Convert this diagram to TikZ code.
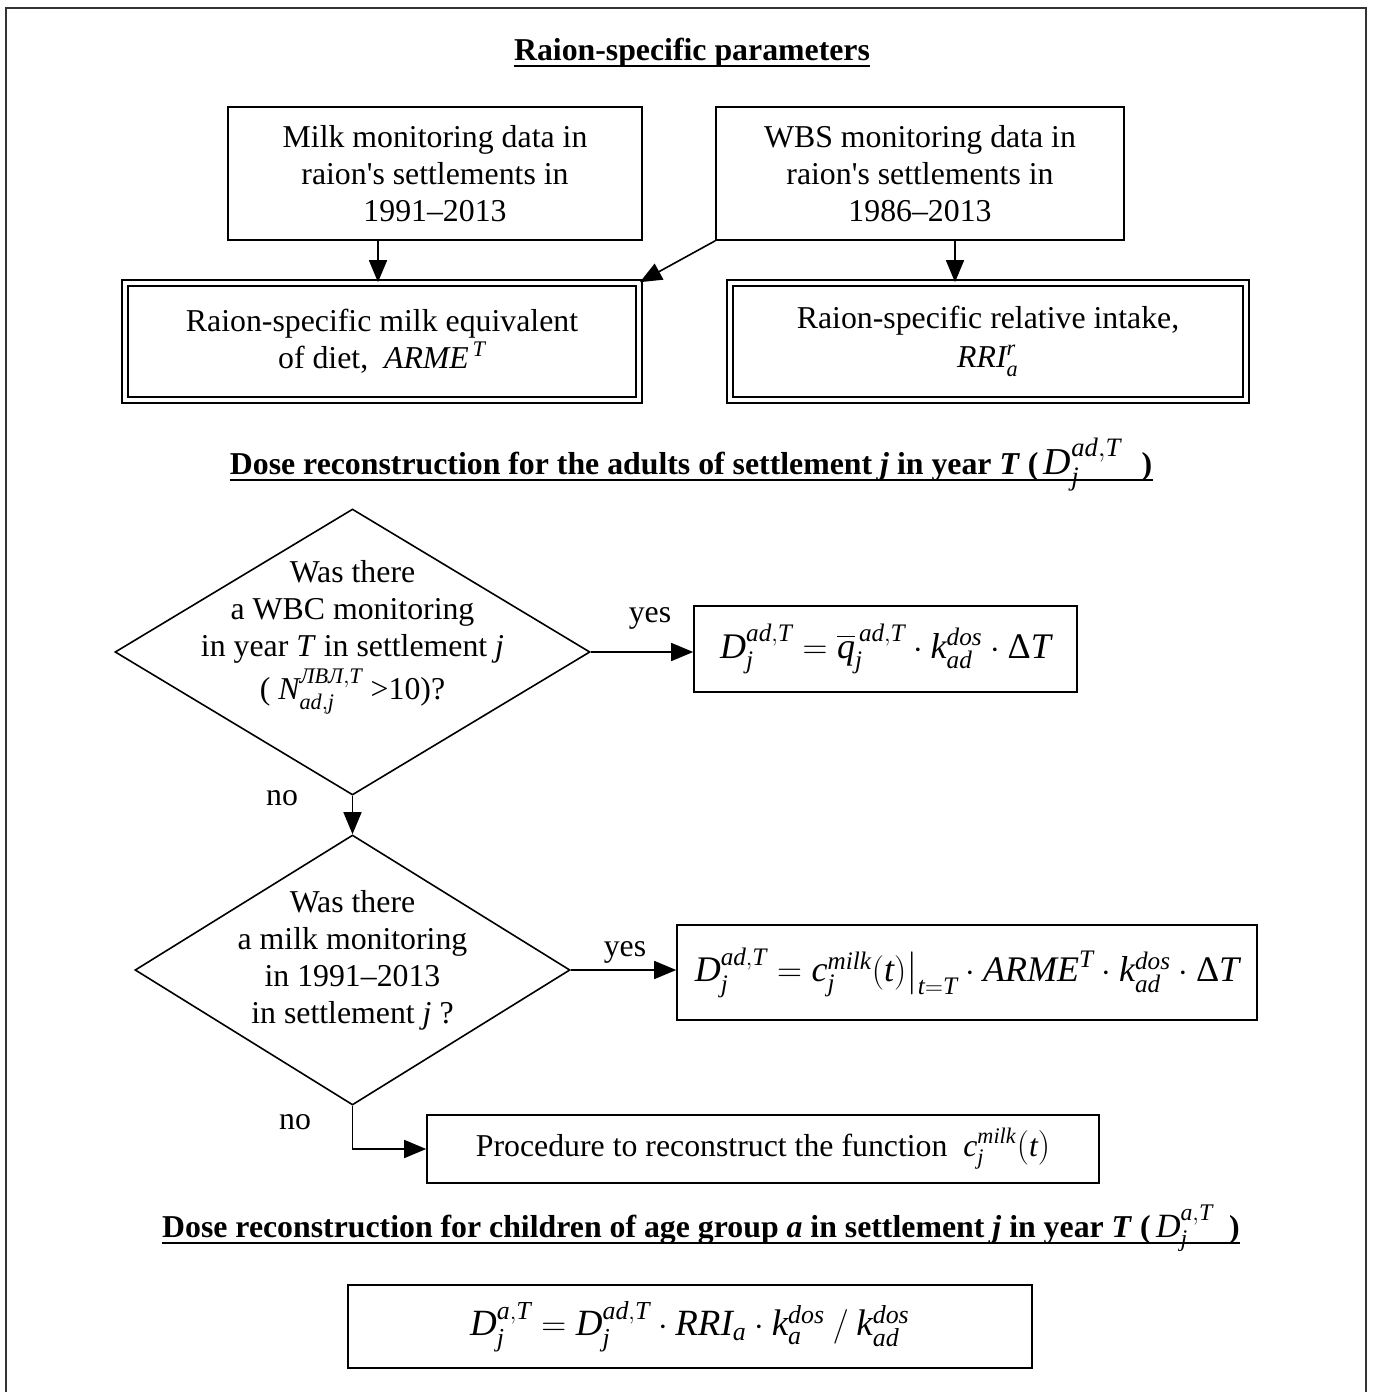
\documentclass[tikz,border=0pt]{standalone}
\usepackage{amsmath}
\usepackage{fontspec}
\setmainfont{Liberation Serif}
\usetikzlibrary{shapes.geometric,arrows.meta}
\newcommand\mi[1]{\mathit{#1}}
\newcommand\dlt{\text{\upshape Δ}}
\begin{document}
\begin{tikzpicture}[x=0.5pt,y=-0.5pt,
  txt/.style={font=\fontsize{15.9}{18.5}\selectfont, align=center},
  box/.style={draw, line width=0.8pt, txt, inner sep=0pt},
  dbox/.style={draw, double, double distance=2.2pt, line width=0.8pt, txt, inner sep=0pt},
  dia/.style={draw, diamond, line width=0.8pt, inner sep=0pt},
  arr/.style={line width=0.8pt, -{Triangle[length=11pt,width=9pt]}},
  hd/.style={font=\fontsize{15.9}{18.5}\selectfont\bfseries, inner sep=0pt, anchor=base},
  lbl/.style={txt, inner sep=0pt},
  uline/.style={line width=1.1pt}
]
\useasboundingbox (0,0) rectangle (1372,1392);
\draw[line width=0.8pt, black!80] (6,8) rectangle (1366,1400);

% headings
\node[hd] (h1) at (692,60) {Raion-specific parameters};
\draw[uline] ([yshift=-3pt]h1.base west) -- ([yshift=-3pt]h1.base east);

\node[hd] (h2) at (691,474) {Dose reconstruction for the adults of settlement \textit{j} in year \textit{T} (\,{\mdseries\fontsize{19}{20}\selectfont$\mi{D}_{\mi{j}}^{\mi{ad},\mi{T}}$}\hspace{10pt})};
\draw[uline] ([yshift=-3pt]h2.base west) -- ([yshift=-3pt]h2.base east);

\node[hd] (h3) at (701,1237) {Dose reconstruction for children of age group \textit{a} in settlement \textit{j} in year \textit{T} (\,{\mdseries\fontsize{17}{18}\selectfont$\mi{D}_{\mi{j}}^{\mi{a},\mi{T}}$}\hspace{8pt})};
\draw[uline] ([yshift=-3pt]h3.base west) -- ([yshift=-3pt]h3.base east);

% raion boxes
\node[box, minimum width=207pt, minimum height=66.5pt] (b1) at (435,173.5)
  {Milk monitoring data in\\ raion\textquotesingle s settlements in\\ 1991--2013};
\node[box, minimum width=204pt, minimum height=66.5pt] (b2) at (920,173.5)
  {WBS monitoring data in\\ raion\textquotesingle s settlements in\\ 1986--2013};
\node[dbox, minimum width=257pt, minimum height=58.5pt] (dl) at (382,341.5)
  {Raion-specific milk equivalent\\ of diet,\ \ $\mi{ARME}^{\,\mi{T}}$};
\node[dbox, minimum width=258pt, minimum height=58.5pt] (dr) at (988,341.5)
  {Raion-specific relative intake,\\[1pt] $\mi{RRI}_{\mi{a}}^{\mi{r}}$};

\draw[arr] ([xshift=-28.5pt]b1.south) -- ([xshift=-28.5pt]b1.south |- dl.north);
\draw[arr] ([xshift=17.5pt]b2.south) -- ([xshift=17.5pt]b2.south |- dr.north);
\draw[arr] (b2.south west) -- (dl.north east);

% decision 1
\node[dia, minimum width=237.5pt, minimum height=143pt] (d1) at (352.5,652) {};
\node[lbl] (d1t) at (352.5,637)
  {Was there\\ a WBC monitoring\\ in year \textit{T} in settlement \textit{j}\\[2pt] ( $\mi{N}_{\mi{ad},\mi{j}}^{\text{\itshape ЛВЛ},\mi{T}}$ >10)?};
\node[box, minimum width=191.5pt, minimum height=43pt] (f1) at (885.5,649)
  {\fontsize{18}{22}\selectfont $\mi{D}_{\mi{j}}^{\mi{ad},\mi{T}} = \overline{\mi{q}}_{\mi{j}}^{\,\mi{ad},\mi{T}} \cdot \mi{k}_{\mi{ad}}^{\mi{dos}} \cdot \dlt\mi{T}$};
\draw[arr] (d1.east) -- (d1.east -| f1.west);
\node[lbl] (y1) at (650,618) {yes};
\node[lbl] (n1) at (282,798) {no};

% decision 2
\node[dia, minimum width=217.5pt, minimum height=135pt] (d2) at (352.5,970) {};
\node[lbl] (d2t) at (352.5,960)
  {Was there\\ a milk monitoring\\ in 1991--2013\\ in settlement \textit{j} ?};
\draw[arr] (d1.south) -- (d2.north);
\node[box, minimum width=290pt, minimum height=47.5pt] (f2) at (967,972.5)
  {\fontsize{18}{22}\selectfont $\mi{D}_{\mi{j}}^{\mi{ad},\mi{T}} = \mi{c}_{\mi{j}}^{\mi{milk}}\mathrm{(}\mi{t}\mathrm{)}\big|_{\mi{t}=\mi{T}} \cdot \mi{ARME}^{\mi{T}} \cdot \mi{k}_{\mi{ad}}^{\mi{dos}} \cdot \dlt\mi{T}$};
\draw[arr] (d2.east) -- (d2.east -| f2.west);
\node[lbl] (y2) at (625,952) {yes};
\node[lbl] (n2) at (295,1122) {no};

% procedure
\node[box, minimum width=336pt, minimum height=34pt] (p) at (763,1149)
  {Procedure to reconstruct the function\ \ $\mi{c}_{\mi{j}}^{\mi{milk}}\mathrm{(}\mi{t}\mathrm{)}$};
\draw[arr] (d2.south) |- (p.west);

% children
\node[box, minimum width=342pt, minimum height=41.5pt] (fc) at (690,1326.5)
  {\fontsize{18.5}{22}\selectfont $\mi{D}_{\mi{j}}^{\mi{a},\mi{T}} = \mi{D}_{\mi{j}}^{\mi{ad},\mi{T}} \cdot \mi{RRI}_{\mi{a}} \cdot \mi{k}_{\mi{a}}^{\mi{dos}} \mathbin{/} \mi{k}_{\mi{ad}}^{\mi{dos}}$};
\end{tikzpicture}
\end{document}
